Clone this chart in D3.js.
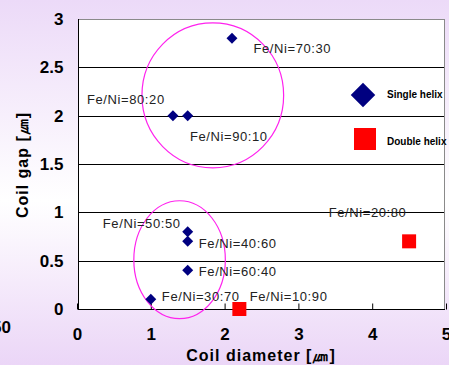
<!DOCTYPE html>
<html>
<head>
<meta charset="utf-8">
<script src="https://cdn.jsdelivr.net/npm/d3@7"></script>
<style>
  body { margin: 0; }
  svg { display: block; }
</style>
</head>
<body>
<div id="chart"></div>
<script>
// data
var singleX = [2.1, 1.3, 1.5, 1.5, 1.5, 1.5, 1.0];
var singleY = [2.8, 2.0, 2.0, 0.8, 0.7, 0.4, 0.1];
var doubleX = [2.2, 4.5];
var doubleY = [0.0, 0.7];
var labelText = ["Fe/Ni=70:30", "Fe/Ni=80:20", "Fe/Ni=90:10", "Fe/Ni=20:80", "Fe/Ni=50:50",
                 "Fe/Ni=40:60", "Fe/Ni=60:40", "Fe/Ni=30:70", "Fe/Ni=10:90"];
var labelX = [2.39, 0.135, 1.53, 3.41, 0.35, 1.65, 1.65, 1.15, 2.34];
var labelY = [2.70, 2.17, 1.79, 1.00, 0.89, 0.68, 0.39, 0.13, 0.13];
var xTicks = [0, 1, 2, 3, 4, 5];
var yTicks = [0, 0.5, 1, 1.5, 2, 2.5, 3];
// group ellipses: centre x, centre y, radius x, radius y (data units)
var ringCx = [1.84, 1.39];
var ringCy = [2.21, 0.51];
var ringRx = [0.96, 0.62];
var ringRy = [0.75, 0.61];

var width = 449, height = 365;

var svg = d3.select("#chart").append("svg")
    .attr("width", width)
    .attr("height", height);

var defs = svg.append("defs");
var grad = defs.append("linearGradient")
    .attr("id", "bg")
    .attr("x1", 0).attr("y1", 0).attr("x2", 0).attr("y2", 1);
grad.append("stop").attr("offset", "0%").attr("stop-color", "#ecdaf8");
grad.append("stop").attr("offset", "55%").attr("stop-color", "#ffffff");
grad.append("stop").attr("offset", "100%").attr("stop-color", "#ebd6f7");

svg.append("rect")
    .attr("width", width).attr("height", height)
    .attr("fill", "url(#bg)");

var x = d3.scaleLinear().domain([0, 5]).range([77, 446]);
var y = d3.scaleLinear().domain([0, 3]).range([309, 19]);

// plot area
svg.append("rect")
    .attr("x", x(0) + 1).attr("y", y(3))
    .attr("width", x(5) - x(0) - 2).attr("height", y(0) - y(3))
    .attr("fill", "#fff");

// grid
svg.append("g")
    .selectAll("line")
    .data(yTicks.slice(1, -1))
    .join("line")
    .attr("x1", x(0) + 1).attr("x2", x(5) - 1)
    .attr("y1", function(d) { return Math.round(y(d)) + 0.5; })
    .attr("y2", function(d) { return Math.round(y(d)) + 0.5; })
    .attr("stroke", "#000").attr("stroke-width", 1);

// frame: top and right grey
svg.append("line")
    .attr("x1", x(0) + 1).attr("x2", x(5) - 1)
    .attr("y1", y(3) + 0.5).attr("y2", y(3) + 0.5)
    .attr("stroke", "#8a8a8a");
svg.append("line")
    .attr("x1", x(5) - 1.5).attr("x2", x(5) - 1.5)
    .attr("y1", y(3)).attr("y2", y(0))
    .attr("stroke", "#8a8a8a");

// axes
var xAxis = d3.axisBottom(x).tickValues(xTicks).tickFormat(String).tickSize(0).tickPadding(18);
var gx = svg.append("g")
    .attr("transform", "translate(0," + (Math.round(y(0)) + 0.5) + ")")
    .call(xAxis);
gx.select(".domain").attr("stroke", "#000").attr("d", "M" + (x(0) + 1) + ",0H" + (x(5) - 1));
gx.selectAll("text")
    .attr("font-family", "Liberation Sans, Arial, sans-serif")
    .attr("font-size", 17).attr("font-weight", "bold").attr("fill", "#000");
// inward ticks
gx.selectAll(".tick line")
    .attr("y2", -6).attr("stroke", "#000");

var yAxis = d3.axisLeft(y).tickValues(yTicks).tickFormat(String).tickSize(0).tickPadding(15);
var gy = svg.append("g")
    .attr("transform", "translate(" + (x(0) + 1.5) + ",0)")
    .call(yAxis);
gy.select(".domain").attr("stroke", "#000").attr("d", "M0," + y(3) + "V" + (y(0) + 0.5));
gy.selectAll("text")
    .attr("font-family", "Liberation Sans, Arial, sans-serif")
    .attr("font-size", 17).attr("font-weight", "bold").attr("fill", "#000");

// stray clipped label at the left edge
svg.append("text")
    .attr("x", 11).attr("y", 327).attr("dy", "0.35em")
    .attr("text-anchor", "end")
    .attr("font-family", "Liberation Sans, Arial, sans-serif")
    .attr("font-size", 17).attr("font-weight", "bold")
    .text("50");

// rings
svg.append("g")
    .selectAll("ellipse")
    .data(ringCx)
    .join("ellipse")
    .attr("cx", function(d) { return x(d); })
    .attr("cy", function(d, i) { return y(ringCy[i]); })
    .attr("rx", function(d, i) { return x(ringRx[i]) - x(0); })
    .attr("ry", function(d, i) { return y(0) - y(ringRy[i]); })
    .attr("fill", "none")
    .attr("stroke", "#ff22ee").attr("stroke-width", 1.2);

// labels
svg.append("g")
    .selectAll("text")
    .data(labelText)
    .join("text")
    .attr("x", function(d, i) { return x(labelX[i]); })
    .attr("y", function(d, i) { return y(labelY[i]); })
    .attr("dy", "0.35em")
    .attr("font-family", "Liberation Sans, Arial, sans-serif")
    .attr("font-size", 13).attr("letter-spacing", 0.6)
    .attr("fill", "#222")
    .text(function(d) { return d; });

// single helix diamonds
var diamond = d3.symbol().type(d3.symbolSquare).size(60);
svg.append("g")
    .selectAll("path")
    .data(singleX)
    .join("path")
    .attr("d", diamond)
    .attr("transform", function(d, i) {
      return "translate(" + x(d) + "," + y(singleY[i]) + ") rotate(45)";
    })
    .attr("fill", "#000080");

// double helix squares
svg.append("g")
    .selectAll("rect")
    .data(doubleX)
    .join("rect")
    .attr("x", function(d) { return x(d) - 7; })
    .attr("y", function(d, i) { return y(doubleY[i]) - 7; })
    .attr("width", 14).attr("height", 14)
    .attr("fill", "#ff0000");

// legend
var legend = svg.append("g").attr("transform", "translate(363,0)");
legend.append("path")
    .attr("d", d3.symbol().type(d3.symbolSquare).size(300))
    .attr("transform", "translate(0,95) rotate(45)")
    .attr("fill", "#000080");
legend.append("rect")
    .attr("x", -9).attr("y", 128).attr("width", 22).attr("height", 22)
    .attr("fill", "#ff0000");
legend.append("text")
    .attr("x", 24).attr("y", 94).attr("dy", "0.35em")
    .attr("font-family", "Liberation Sans, Arial, sans-serif")
    .attr("font-size", 10).attr("font-weight", "bold")
    .text("Single helix");
legend.append("text")
    .attr("x", 24).attr("y", 141).attr("dy", "0.35em")
    .attr("font-family", "Liberation Sans, Arial, sans-serif")
    .attr("font-size", 10).attr("font-weight", "bold")
    .text("Double helix");

// axis titles
svg.append("text")
    .attr("x", 261).attr("y", 355).attr("dy", "0.35em")
    .attr("text-anchor", "middle")
    .attr("font-family", "Liberation Sans, Arial, sans-serif")
    .attr("font-size", 16).attr("font-weight", "bold").attr("letter-spacing", 1)
    .text("Coil diameter [㎛]");
svg.append("text")
    .attr("transform", "translate(22,165) rotate(-90)")
    .attr("dy", "0.35em")
    .attr("text-anchor", "middle")
    .attr("font-family", "Liberation Sans, Arial, sans-serif")
    .attr("font-size", 16).attr("font-weight", "bold").attr("letter-spacing", 1)
    .text("Coil gap [㎛]");
</script>
</body>
</html>
